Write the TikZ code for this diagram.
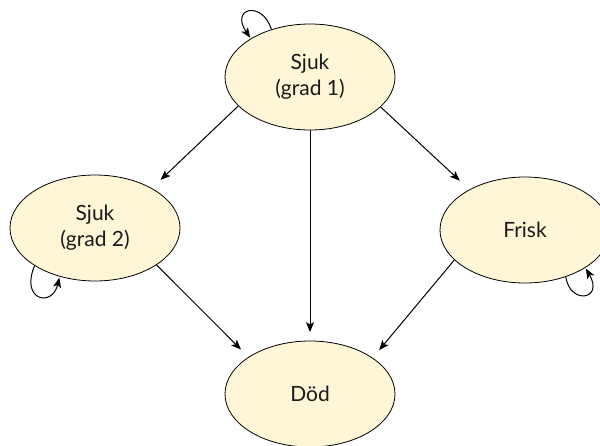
\documentclass[tikz,border=0pt]{standalone}
\usepackage{fontspec}
\setmainfont{Lato}
\usetikzlibrary{shapes.geometric,arrows.meta}
\definecolor{cream}{HTML}{FFF5D7}
\definecolor{txt}{HTML}{1A1A1A}
\tikzset{
  state/.style={ellipse, draw=black, line width=0.8pt, fill=cream,
    minimum width=170pt, minimum height=106pt, inner sep=0pt,
    align=center, text=txt, font=\fontsize{21}{26}\selectfont},
  arr/.style={-{Stealth[length=10pt,width=8pt,inset=2.5pt]}, line width=1pt, black},
}
\begin{document}
\begin{tikzpicture}[x=1pt,y=-1pt]
\useasboundingbox (0,0) rectangle (600,445);
\clip (0,0) rectangle (600,445);
\node[state] (s1) at (310,77) {Sjuk\\(grad 1)};
\node[state] (s2) at (95,228) {Sjuk\\(grad 2)};
\node[state] (fr) at (525,230) {Frisk};
\node[state] (dd) at (310,394) {Död};
\draw[arr, shorten >=12pt] (s1.202.3) -- (s2.35.2);
\draw[arr, shorten >=8.5pt] (s1.270) -- (dd.90);
\draw[arr, shorten >=13pt] (s1.337.7) -- (fr.144);
\draw[arr, shorten >=10.5pt] (s2.329.5) -- (dd.149.6);
\draw[arr, shorten >=10pt] (fr.203.9) -- (dd.30.5);
\draw[arr, shorten >=1pt] (s1.129) .. controls (262,0) and (230,8) .. (s1.147);
\draw[arr, shorten >=1pt] (s2.212) .. controls (20,300) and (52,308) .. (s2.234);
\draw[arr, shorten >=1pt] (fr.311) .. controls (570,305) and (604,300) .. (fr.328);
\end{tikzpicture}
\end{document}
